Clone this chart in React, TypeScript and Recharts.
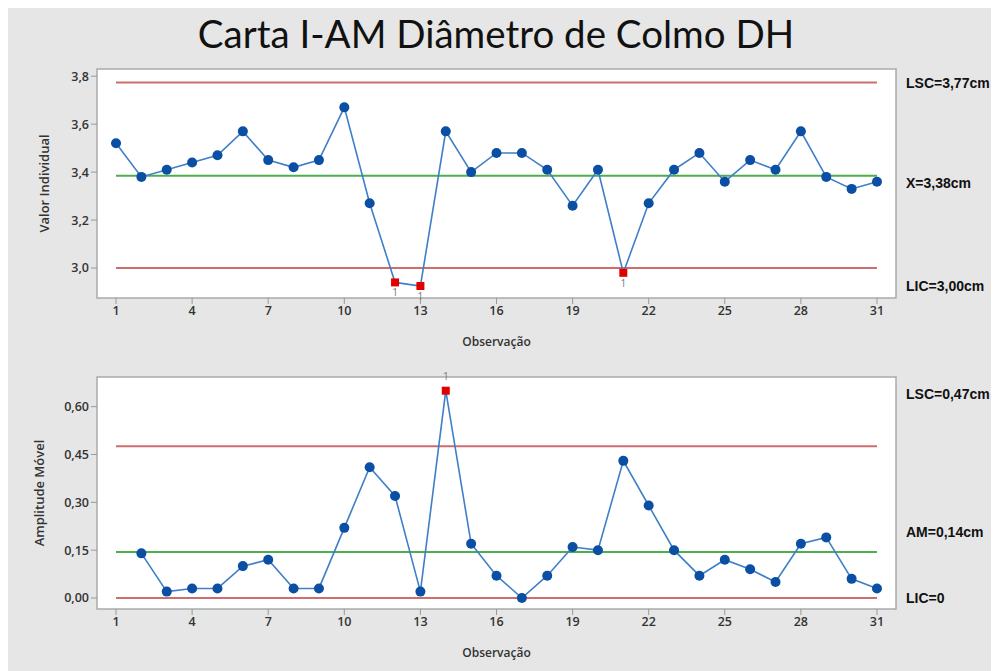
import React from 'react'
import {
  LineChart,
  Line,
  XAxis,
  YAxis,
  ReferenceLine,
  ReferenceArea,
} from 'recharts'

// observações 1..31
const observacoes = [
  1, 2, 3, 4, 5, 6, 7, 8, 9, 10, 11, 12, 13, 14, 15, 16,
  17, 18, 19, 20, 21, 22, 23, 24, 25, 26, 27, 28, 29, 30, 31,
]

const valorIndividual = [
  3.52, 3.38, 3.41, 3.44, 3.47, 3.57, 3.45, 3.42, 3.45, 3.67, 3.27, 2.94, 2.925, 3.57, 3.4, 3.48,
  3.48, 3.41, 3.26, 3.41, 2.98, 3.27, 3.41, 3.48, 3.36, 3.45, 3.41, 3.57, 3.38, 3.33, 3.36,
]

const amplitudeMovel = [
  null, 0.14, 0.02, 0.03, 0.03, 0.1, 0.12, 0.03, 0.03, 0.22, 0.41, 0.32, 0.02, 0.65, 0.17, 0.07,
  0.0, 0.07, 0.16, 0.15, 0.43, 0.29, 0.15, 0.07, 0.12, 0.09, 0.05, 0.17, 0.19, 0.06, 0.03,
]

const xTicks = [1, 4, 7, 10, 13, 16, 19, 22, 25, 28, 31]
const iTicks = [3.0, 3.2, 3.4, 3.6, 3.8]
const mrTicks = [0, 0.15, 0.3, 0.45, 0.6]

// limites de controle
const limitesI = { lsc: 3.774, centro: 3.385, lic: 3.0 }
const limitesAM = { lsc: 0.476, centro: 0.144, lic: 0 }

const dataI = observacoes.map((obs, i) => ({ obs, valor: valorIndividual[i] }))
const dataAM = observacoes.map((obs, i) => ({ obs, valor: amplitudeMovel[i] }))

const BG = '#e6e6e6'
const RED = '#cc6e6e'
const GREEN = '#4cae4c'
const LINE = '#3f7fc8'
const DOT = '#0a4fa3'
const tickStyle = { fill: '#333', fontSize: 12.5, fontWeight: 600, fontFamily: 'Open Sans' }

const makeDot = (lo: number, hi: number, below: boolean) => (props: any) => {
  const { cx, cy, value, index } = props
  if (value == null || cx == null || cy == null) return <g key={`d${index}`} />
  if (value < lo || value > hi) {
    return (
      <g key={`d${index}`}>
        <rect x={cx - 4} y={cy - 4} width={8} height={8} fill="#e00000" />
        <text
          x={cx}
          y={below ? cy + 14 : cy - 11}
          textAnchor="middle"
          fontSize={10}
          fill="#777"
          fontFamily="Open Sans"
        >
          1
        </text>
      </g>
    )
  }
  return <circle key={`d${index}`} cx={cx} cy={cy} r={5} fill={DOT} />
}

const sideLabel = (text: string, top: number) => (
  <div
    style={{
      position: 'absolute',
      left: 898,
      top: top - 9,
      fontFamily: 'Liberation Sans',
      fontWeight: 700,
      fontSize: 14,
      color: '#111',
      whiteSpace: 'nowrap',
    }}
  >
    {text}
  </div>
)

function ControlChart({
  data,
  domain,
  ticks,
  limits,
  yLabel,
  labelOffset,
  height,
  top,
  bottom,
  fmt,
  below,
}: any) {
  return (
    <LineChart
      width={991}
      height={height}
      data={data}
      margin={{ top, right: 103, bottom, left: 0 }}
    >
      <XAxis
        dataKey="obs"
        type="number"
        domain={[0.25, 31.75]}
        ticks={xTicks}
        axisLine={false}
        tickLine={{ stroke: '#999' }}
        tickSize={6}
        tick={tickStyle}
        height={50}
        label={{
          value: 'Observação',
          position: 'insideBottom',
          offset: 2,
          style: { fill: '#333', fontSize: 12, fontWeight: 600, fontFamily: 'Open Sans' },
        }}
      />
      <YAxis
        type="number"
        domain={domain}
        ticks={ticks}
        axisLine={false}
        tickLine={{ stroke: '#999' }}
        tickSize={6}
        tick={tickStyle}
        tickFormatter={fmt}
        width={89}
        label={{
          value: yLabel,
          angle: -90,
          position: 'insideLeft',
          offset: labelOffset,
          style: { textAnchor: 'middle', fill: '#333', fontSize: 13, fontWeight: 600, fontFamily: 'Open Sans' },
        }}
      />
      <ReferenceArea
        x1={0.25}
        x2={31.75}
        y1={domain[0]}
        y2={domain[1]}
        fill="#fff"
        fillOpacity={1}
        stroke="#aaa"
        strokeWidth={1.5}
        ifOverflow="visible"
      />
      <ReferenceLine
        segment={[{ x: 1, y: limits.lsc }, { x: 31, y: limits.lsc }]}
        stroke={RED}
        strokeWidth={2}
      />
      <ReferenceLine
        segment={[{ x: 1, y: limits.centro }, { x: 31, y: limits.centro }]}
        stroke={GREEN}
        strokeWidth={2}
      />
      <ReferenceLine
        segment={[{ x: 1, y: limits.lic }, { x: 31, y: limits.lic }]}
        stroke={RED}
        strokeWidth={2}
      />
      <Line
        type="linear"
        dataKey="valor"
        stroke={LINE}
        strokeWidth={1.6}
        dot={makeDot(limits.lic, limits.lsc, below)}
        activeDot={false}
        isAnimationActive={false}
      />
    </LineChart>
  )
}

export default function App() {
  return (
    <div
      style={{
        position: 'relative',
        width: 991,
        height: 666,
        marginTop: -3,
        background: BG,
        overflow: 'hidden',
      }}
    >
      <div
        style={{
          position: 'absolute',
          left: 0,
          top: 6,
          width: 976,
          textAlign: 'center',
          fontFamily: 'Lato',
          fontSize: 38.5,
          lineHeight: '44px',
          color: '#111',
        }}
      >
        Carta I-AM Diâmetro de Colmo DH
      </div>
      <div style={{ position: 'absolute', left: 0, top: 0 }}>
        <ControlChart
          data={dataI}
          domain={[2.875, 3.83]}
          ticks={iTicks}
          limits={limitesI}
          yLabel="Valor Individual"
          labelOffset={36}
          height={360}
          top={64}
          bottom={17}
          fmt={(v: number) => v.toFixed(1).replace('.', ',')}
          below={true}
        />
      </div>
      <div style={{ position: 'absolute', left: 0, top: 310 }}>
        <ControlChart
          data={dataAM}
          domain={[-0.0345, 0.693]}
          ticks={mrTicks}
          limits={limitesAM}
          yLabel="Amplitude Móvel"
          labelOffset={31}
          height={356}
          top={62}
          bottom={12}
          fmt={(v: number) => v.toFixed(2).replace('.', ',')}
          below={false}
        />
      </div>
      {sideLabel('LSC=3,77cm', 79)}
      {sideLabel('X=3,38cm', 179)}
      {sideLabel('LIC=3,00cm', 282)}
      {sideLabel('LSC=0,47cm', 390)}
      {sideLabel('AM=0,14cm', 528)}
      {sideLabel('LIC=0', 594)}
    </div>
  )
}
